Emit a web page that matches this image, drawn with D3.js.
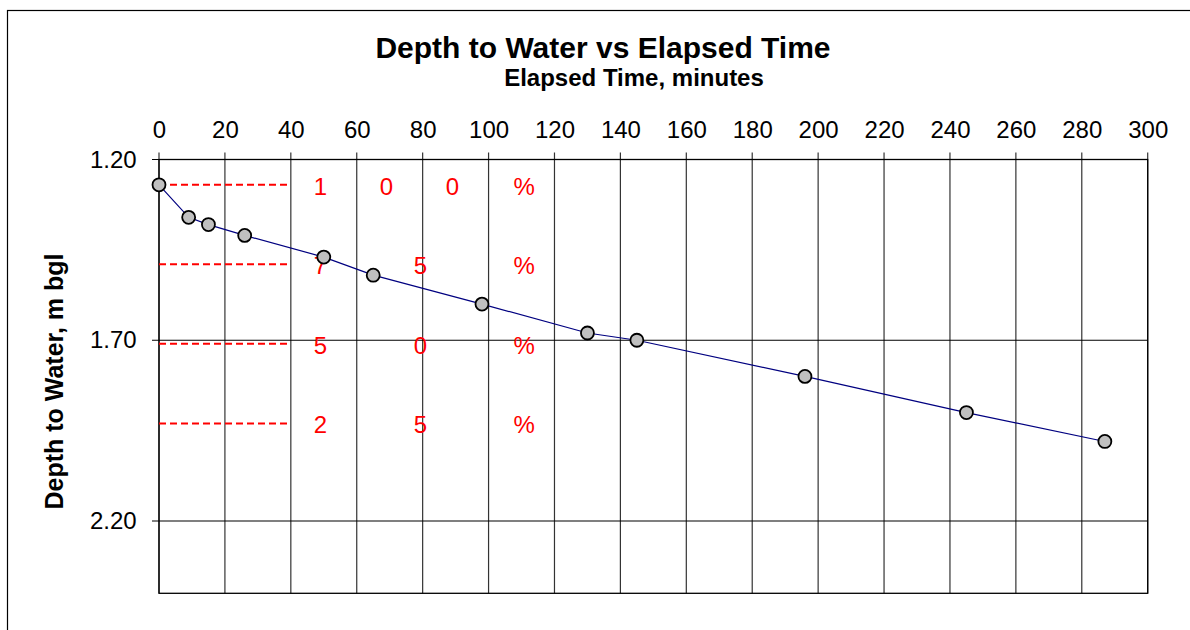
<!DOCTYPE html>
<html>
<head>
<meta charset="utf-8">
<script src="https://cdn.jsdelivr.net/npm/d3@7"></script>
<style>
    body { margin: 0; background: #fff; }
    text { font-family: "Liberation Sans", Arial, sans-serif; }
</style>
</head>
<body>
<div id="chart"></div>
<script>
// elapsed time (minutes) and depth to water (m bgl)
let elapsedTime = [0, 9, 15, 26, 50, 65, 98, 130, 145, 196, 245, 287];
let depthToWater = [1.27, 1.36, 1.38, 1.41, 1.47, 1.52, 1.60, 1.68, 1.70, 1.80, 1.90, 1.98];

let xTicks = [0, 20, 40, 60, 80, 100, 120, 140, 160, 180, 200, 220, 240, 260, 280, 300];
let yTicks = [1.20, 1.70, 2.20];

// recovery levels (100 %, 75 %, 50 %, 25 %)
let recoveryDepth = [1.27, 1.49, 1.71, 1.93];
let recoveryChars = [['1', '0', '0', '%'], ['7', '5', '%'], ['5', '0', '%'], ['2', '5', '%']];
let recoveryLineEnd = 40;

let drawChart = function() {
    let margin = {top: 159.5, left: 159};
    let width = 988.7;
    let height = 433.8;

    let svg = d3.select('#chart')
    .append('svg')
        .attr('width', 1190)
        .attr('height', 630);

    // outer frame (right and bottom lie outside the picture)
    svg.append('rect')
        .attr('x', 7.5).attr('y', 10.5)
        .attr('width', 1300).attr('height', 700)
        .attr('fill', 'none')
        .attr('stroke', '#000')
        .attr('stroke-width', 1.2);

    svg.append('text')
        .attr('x', 603).attr('y', 58)
        .attr('text-anchor', 'middle')
        .style('font-size', '30px')
        .style('font-weight', 'bold')
        .text('Depth to Water vs Elapsed Time');

    svg.append('text')
        .attr('x', 634).attr('y', 86)
        .attr('text-anchor', 'middle')
        .style('font-size', '24px')
        .style('font-weight', 'bold')
        .text('Elapsed Time, minutes');

    svg.append('text')
        .attr('transform', 'translate(63,381.5)rotate(-90)')
        .attr('text-anchor', 'middle')
        .style('font-size', '25px')
        .style('font-weight', 'bold')
        .text('Depth to Water, m bgl');

    let g = svg.append('g')
        .attr('transform', 'translate(' + margin.left + ',' + margin.top + ')');

    let x = d3.scaleLinear().domain([0, 300]).range([0, width]);
    let y = d3.scaleLinear().domain([1.2, 2.4]).range([0, height]);

    // grid
    g.selectAll('.vgrid')
    .data(xTicks)
    .enter()
    .append('line')
        .attr('x1', d => x(d)).attr('x2', d => x(d))
        .attr('y1', -7).attr('y2', height)
        .attr('stroke', '#333')
        .attr('stroke-width', 1.2);

    g.selectAll('.hgrid')
    .data(yTicks)
    .enter()
    .append('line')
        .attr('x1', -7).attr('x2', width)
        .attr('y1', d => y(d)).attr('y2', d => y(d))
        .attr('stroke', '#000')
        .attr('stroke-width', 1.2);

    g.append('rect')
        .attr('width', width).attr('height', height)
        .attr('fill', 'none')
        .attr('stroke', '#000')
        .attr('stroke-width', 1.3);

    // top axis
    let xAxis = g.append('g')
        .call(d3.axisTop(x).tickValues(xTicks).tickSize(0).tickPadding(21.5).tickFormat(d3.format('d')));
    xAxis.select('.domain').remove();
    xAxis.selectAll('text')
        .style('font-size', '24px')
        .attr('fill', '#000');

    let yAxis = g.append('g')
        .call(d3.axisLeft(y).tickValues(yTicks).tickSize(0).tickPadding(22.3).tickFormat(d3.format('.2f')));
    yAxis.select('.domain').remove();
    yAxis.selectAll('text')
        .style('font-size', '24px')
        .attr('fill', '#000');

    // recovery lines
    g.selectAll('.rec')
    .data(recoveryDepth)
    .enter()
    .append('line')
        .attr('x1', x(0)).attr('x2', x(recoveryLineEnd))
        .attr('y1', d => y(d)).attr('y2', d => y(d))
        .attr('stroke', '#ff0000')
        .attr('stroke-width', 2)
        .attr('stroke-dasharray', '7,4');

    // spread-out percentage labels
    let colsFor = {4: [49, 69, 89, 110.8], 3: [49, 79.3, 110.8]};
    recoveryChars.forEach(function(chars, i) {
        let cols = colsFor[chars.length];
        chars.forEach(function(c, j) {
            g.append('text')
                .attr('x', x(cols[j]))
                .attr('y', y(recoveryDepth[i]) + 10)
                .attr('text-anchor', 'middle')
                .attr('fill', '#ff0000')
                .style('font-size', '24px')
                .text(c);
        });
    });

    // series
    let pts = elapsedTime.map((t, i) => [t, depthToWater[i]]);
    g.append('path')
        .datum(pts)
        .attr('fill', 'none')
        .attr('stroke', '#000080')
        .attr('stroke-width', 1.2)
        .attr('d', d3.line().x(d => x(d[0])).y(d => y(d[1])));

    g.selectAll('.pt')
    .data(pts)
    .enter()
    .append('circle')
        .attr('cx', d => x(d[0]))
        .attr('cy', d => y(d[1]))
        .attr('r', 6.5)
        .attr('fill', '#c0c0c0')
        .attr('stroke', '#000')
        .attr('stroke-width', 1.8);
}

drawChart();
</script>
</body>
</html>
